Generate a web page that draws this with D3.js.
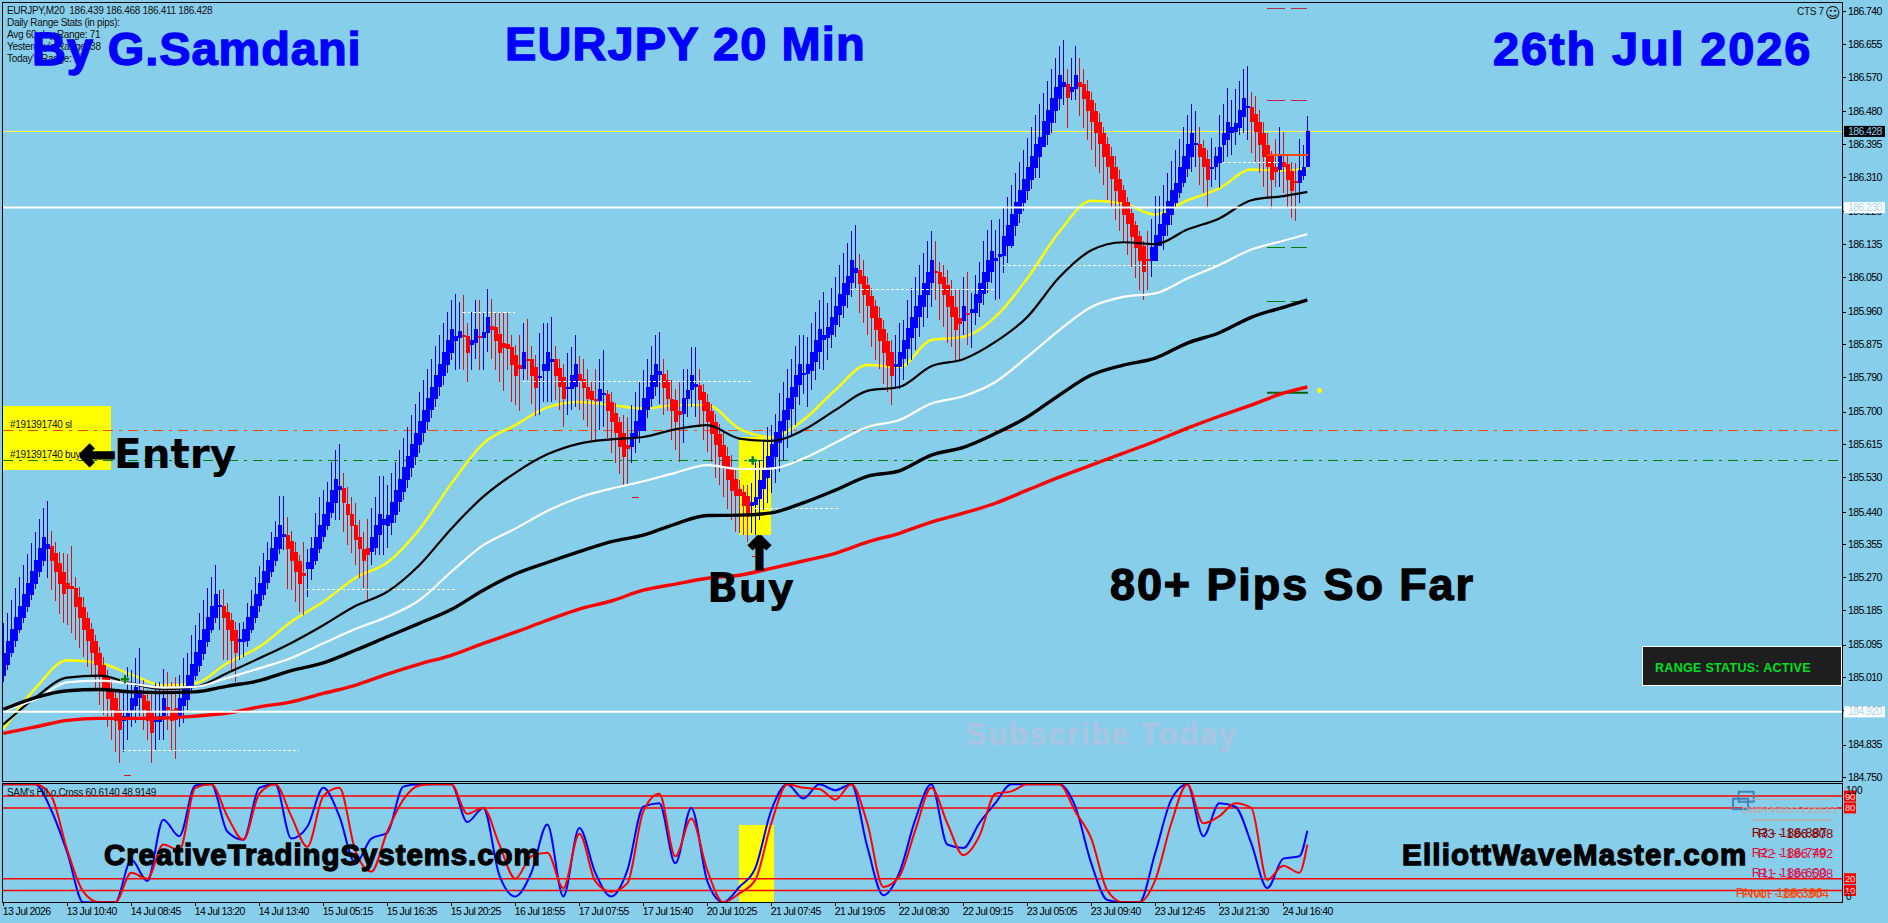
<!DOCTYPE html>
<html>
<head>
<meta charset="utf-8">
<title>EURJPY 20 Min</title>
<script src="https://cdnjs.cloudflare.com/ajax/libs/d3/7.8.5/d3.min.js"></script>
<style>
  html, body { margin: 0; padding: 0; background: #87ceeb; overflow: hidden; }
  text { font-family: "Liberation Sans", Arial, sans-serif; }
  .small { font-size: 10px; letter-spacing: -0.3px; fill: #101010; white-space: pre; }
  .axis text { font-size: 10.5px; letter-spacing: -0.6px; fill: #000; }
  .axis path { display: none; }
  .axis line { stroke: #000; }
</style>
</head>
<body>
<div id="chart"></div>
<script>
// bars are in points (0.001) above 185.000
const highs = [150,176,211,241,270,302,330,358,388,420,449,468,389,362,336,332,329,351,270,245,
219,180,150,120,89,63,29,3,-23,-23,-23,37,29,59,85,3,-23,-23,-6,-2,
31,23,-2,11,16,59,72,120,146,176,211,241,271,301,237,238,202,176,153,150,
154,202,237,271,299,332,362,388,417,481,482,425,391,360,328,362,342,375,436,479,
496,518,570,600,616,540,505,479,462,418,388,420,449,479,533,533,509,540,570,600,
631,661,691,720,752,782,810,838,870,899,929,960,990,1006,986,1003,929,960,990,990,
960,1018,992,960,957,957,957,899,873,899,929,940,870,847,903,929,931,945,870,836,
825,851,869,899,845,838,812,778,810,838,860,756,752,722,687,691,687,717,752,778,
808,838,870,899,907,838,808,782,760,778,810,812,869,869,810,773,747,721,695,669,
652,609,587,548,522,509,509,514,574,574,626,661,665,695,749,778,810,838,870,899,
899,895,929,960,990,1012,981,1020,1051,1081,1111,1139,1170,1185,1110,1094,1051,1020,990,973,
938,903,886,899,929,938,990,1020,1051,1081,1111,1142,1170,1142,1090,1081,1068,1042,1016,1016,
1049,1064,1007,1055,1090,1142,1172,1198,1172,1200,1228,1258,1289,1319,1349,1380,1410,1440,1471,1499,
1529,1560,1589,1618,1650,1665,1589,1618,1650,1618,1589,1562,1531,1501,1475,1440,1414,1388,1364,1328,
1289,1258,1233,1194,1168,1142,1168,1200,1260,1260,1289,1319,1352,1380,1407,1439,1471,1499,1481,1439,
1406,1380,1410,1387,1471,1499,1540,1510,1537,1560,1589,1598,1530,1520,1484,1453,1423,1378,1407,1439,
1427,1367,1349,1345,1407,1393,1468];
const lows = [-2,29,63,89,124,152,180,211,240,270,299,267,237,209,174,150,146,124,107,85,
63,37,11,-23,-62,-88,-120,-153,-183,-212,-183,-153,-120,-110,-92,-127,-153,-212,-179,-153,
-153,-127,-179,-203,-120,-110,-75,-32,3,24,55,89,124,150,133,55,55,29,-2,55,
63,89,124,150,180,211,238,270,299,330,340,238,237,206,180,172,219,263,302,332,
362,393,423,418,418,388,353,332,302,269,241,211,302,327,327,327,347,379,410,440,
470,501,531,561,592,622,652,683,713,741,769,800,834,808,812,808,778,808,838,808,
808,856,838,808,778,754,808,726,717,702,782,782,721,689,691,726,726,726,730,704,
659,691,704,713,704,678,659,626,626,652,661,631,592,567,538,509,509,567,592,618,
652,683,713,741,720,691,702,626,600,570,619,687,713,687,661,626,596,570,527,509,
479,446,418,388,384,379,362,384,379,418,444,462,488,514,544,574,605,635,665,717,
747,713,756,782,812,808,834,864,895,921,942,968,998,1020,957,929,899,869,834,812,
773,752,717,760,760,782,821,834,860,895,921,942,973,990,938,921,877,869,834,834,
899,873,864,925,947,977,1007,1033,990,992,1059,1085,1124,1155,1189,1220,1250,1278,1308,1306,
1388,1393,1423,1449,1484,1497,1438,1510,1510,1468,1436,1406,1380,1336,1319,1289,1250,1228,1198,1168,
1142,1107,1077,1046,1016,990,1016,1049,1120,1150,1120,1155,1185,1228,1254,1283,1310,1323,1336,1289,
1267,1228,1284,1302,1280,1349,1362,1367,1393,1419,1423,1406,1371,1349,1319,1284,1258,1226,1284,1284,
1267,1228,1202,1194,1241,1302,1336];
const opens = [12,43,74,105,133,164,193,223,252,283,313,344,
351,332,308,283,254,247,242,219,192,164,134,105,74,43,11,-20,-44,-75,
-105,-101,-75,-66,-45,-36,-53,-79,-107,-107,-92,-68,-75,-71,
-92,-66,-50,-16,13,39,70,102,133,164,192,195,179,159,133,
102,102,105,133,164,195,223,254,283,313,343,373,380,364,336,313,282,
290,290,313,344,375,403,436,463,496,502,460,434,405,375,344,345,
336,345,379,405,403,410,431,466,492,522,553,583,613,644,673,704,734,763,793,821,851,884,890,
898,896,874,877,896,891,903,922,919,902,877,876,867,847,820,812,836,836,815,
787,805,805,829,836,813,791,760,760,765,799,784,765,754,732,728,744,
746,725,697,673,644,613,609,631,649,649,704,734,763,794,799,782,732,730,702,
694,732,756,765,769,752,726,701,673,643,614,585,553,524,498,492,481,
456,457,472,500,527,557,583,619,650,678,706,737,770,794,798,805,830,856,886,890,899,925,951,974,1003,1033,1059,
1068,1052,1028,1000,974,943,914,884,855,817,817,836,862,890,916,947,973,1003,1033,
1066,1064,1049,1028,1000,971,943,936,957,
955,957,981,1006,1038,1064,1091,1101,1103,1129,1129,1181,1213,1243,1274,1302,1333,1362,1388,1419,1451,1482,1512,1543,
1551,1531,1537,1556,1551,1533,1510,1481,1453,1423,1395,1364,1335,1304,1276,1245,1217,1186,1156,1129,1096,
1092,1092,1129,1155,1185,1211,1241,1267,1295,1331,1362,1393,1395,1384,1355,
1330,1335,1345,1393,1406,1425,1427,1436,1465,1488,1491,1472,1453,1423,1393,1364,1336,1328,
1349,1343,1325,1298,1295,1312,1336];
const closes = [74,105,134,166,195,225,254,285,315,345,374,356,
313,284,252,225,240,238,193,164,133,105,74,43,11,-23,-47,-75,-105,-127,
-92,-84,-45,-16,-23,-75,-105,-136,-101,-92,-45,-75,-105,-101,
-45,-19,16,44,76,107,134,166,195,226,198,164,133,105,74,
108,134,166,195,226,254,285,315,345,375,405,382,343,313,284,252,274,
309,345,375,405,434,464,496,524,507,463,431,403,366,344,312,327,
375,405,434,420,431,465,496,526,555,585,616,645,676,704,735,765,796,824,855,886,915,896,909,
893,853,886,915,890,907,946,912,884,853,865,862,822,793,812,856,832,793,761,
793,824,854,838,793,763,734,765,794,824,780,761,734,730,727,758,748,
701,673,644,609,583,604,644,675,704,735,765,794,824,805,761,734,701,674,690,
735,756,795,772,730,701,673,642,614,583,559,522,495,482,481,456,432,
466,479,522,548,585,616,647,675,704,735,765,795,824,801,824,855,886,915,898,921,947,974,1006,1035,1052,1094,1074,
1032,1003,974,942,912,884,851,818,793,825,855,886,916,945,974,1004,1033,1064,1094,
1063,1032,1003,973,945,912,928,974,954,
967,1006,1035,1064,1094,1117,1100,1110,1155,1185,1213,1245,1276,1305,1336,1364,1395,1414,1456,1484,1514,1544,1575,1556,
1514,1544,1575,1543,1512,1482,1453,1423,1395,1362,1335,1304,1274,1245,1211,1187,1153,1124,1092,1064,1092,
1127,1159,1187,1215,1246,1276,1295,1336,1364,1395,1425,1397,1362,1336,1302,
1336,1364,1387,1425,1453,1439,1449,1484,1514,1494,1453,1427,1393,1362,1335,1302,1323,1364,
1335,1302,1274,1295,1329,1336,1428];

// moving averages, read every 8 bars plus the last bar
const maBars = [0,8,16,24,32,40,48,56,64,72,80,88,96,104,112,120,128,136,144,152,160,168,176,184,192,200,208,216,224,232,240,248,256,264,272,280,288,296,304,312,320,326];
const maYellow = [184.875,184.981,185.054,185.047,185.017,184.989,184.994,185.047,185.089,185.154,185.206,185.268,185.308,185.394,185.513,185.617,185.665,185.711,185.725,185.717,185.708,185.717,185.717,185.656,185.634,185.678,185.756,185.821,185.816,185.886,185.894,185.946,186.046,186.167,186.248,186.241,186.212,186.249,186.280,186.329,186.326,186.332];
const maThinBlack = [184.887,184.957,185.009,185.014,184.994,184.979,184.985,185.021,185.059,185.099,185.145,185.195,185.232,185.301,185.396,185.479,185.541,185.589,185.617,185.628,185.634,185.654,185.665,185.630,185.624,185.652,185.704,185.754,185.764,185.818,185.836,185.881,185.946,186.049,186.119,186.140,186.135,186.173,186.202,186.249,186.260,186.271];
const maWhite = [184.924,184.952,184.997,185.001,184.993,184.983,184.985,185.008,185.033,185.060,185.098,185.135,185.167,185.210,185.284,185.353,185.396,185.442,185.477,185.500,185.519,185.541,185.561,185.551,185.552,185.578,185.619,185.660,185.678,185.721,185.740,185.777,185.842,185.912,185.972,185.998,186.007,186.046,186.081,186.121,186.144,186.161];
const maThickBlack = [184.926,184.957,184.975,184.978,184.972,184.970,184.972,184.987,185.001,185.027,185.047,185.080,185.115,185.150,185.186,185.236,185.278,185.308,185.336,185.362,185.379,185.408,185.430,185.431,185.437,185.463,185.496,185.532,185.546,185.587,185.607,185.643,185.686,185.743,185.795,185.821,185.839,185.878,185.905,185.945,185.971,185.990];
const maRed = [184.864,184.881,184.898,184.903,184.903,184.904,184.909,184.917,184.933,184.946,184.968,184.989,185.018,185.044,185.067,185.098,185.127,185.158,185.187,185.208,185.236,185.252,185.267,185.275,185.293,185.312,185.332,185.361,185.384,185.413,185.436,185.462,185.496,185.530,185.561,185.592,185.623,185.657,185.688,185.717,185.748,185.764];

// SAM's HiLo cross, read every 4 bars plus the last bar
const stochBars = d3.range(0, 325, 4).concat([326]);
const stochBlue = [100,100,100,78,42,0,0,0,36,18,70,56,99,100,60,53,97,100,54,64,97,73,33,54,59,98,100,100,100,68,80,23,5,25,66,5,63,25,5,27,81,84,33,80,18,0,13,29,78,100,88,100,95,100,47,6,25,70,100,49,46,67,84,100,100,100,100,81,33,2,0,0,42,87,100,56,84,81,50,12,37,39,60.6];
const stochRed = [100,100,100,90,44,9,0,0,25,20,49,44,97,100,73,53,92,100,73,47,90,97,44,26,60,87,99,100,100,75,80,49,20,39,42,12,58,18,9,16,77,92,39,71,27,0,7.6,19,67,100,97,96,87,100,67,13,22,61,97,67,40,56,92,94,100,100,100,77,54,10,0,0,19,67,100,67,73,84,80,19,31,25,48.9];
const stochLevels = [90, 80, 20, 10];

const priceTicks = [186.740,186.655,186.570,186.480,186.395,186.310,186.220,186.135,186.050,185.960,185.875,185.790,185.700,185.615,185.530,185.440,185.355,185.270,185.185,185.095,185.010,184.925,184.835,184.750];
const timeTicks = d3.range(0, 321, 16);
const timeLabels = ["13 Jul 2026","13 Jul 10:40","14 Jul 08:45","14 Jul 13:20","14 Jul 13:40","15 Jul 05:15","15 Jul 16:35","15 Jul 20:25","16 Jul 18:55","17 Jul 07:55","17 Jul 15:40","20 Jul 10:25","21 Jul 07:45","21 Jul 19:05","22 Jul 08:30","22 Jul 09:15","23 Jul 05:05","23 Jul 09:40","23 Jul 12:45","23 Jul 21:30","24 Jul 16:40"];

// short white dashed levels: [from bar, to bar, price]
const dashLevels = [[30,74,184.820],[76,113,185.238],[115,128,185.958],[130,187,185.779],[188,209,185.449],[212,248,186.018],[250,303,186.080],[305,319,186.348],[323,325,186.230]];
// pivot stubs on the last day: [price, colour, width]
const pivotStubs = [[186.747,"#b03050",1],[186.507,"#c8204c",1],[186.127,"#008000",1],[185.987,"#008000",1]];
const infoLines = ["EURJPY,M20  186.439 186.468 186.411 186.428","Daily Range Stats (in pips):","Avg 60-day Range: 71","Yesterday's Range: 38","Today's Range: 27"];
const pivotLabels = [["R3 - 186.887","R3 - 186.808","#8b0000",832],["R2 - 186.749","R2 - 186.792","#dc143c",852],["R1 - 186.600","R1 - 186.588","#dc1450",872],["Pivot - 186.366","Pivot - 186.304","#ff4500",892]];

const width = 1888, height = 923;
const svg = d3.select("#chart").append("svg").attr("width", width).attr("height", height).style("display", "block");

const x = d3.scaleLinear().domain([0, 326]).range([3.3, 1307.3]);
const y = d3.scaleLinear().domain([186.74, 184.75]).range([11.3, 777.3]);
const yStoch = d3.scaleLinear().domain([0, 100]).range([902.3, 784.3]);
const price = d => 185 + d / 1000;

svg.append("rect").attr("width", width).attr("height", height).attr("fill", "#87ceeb");

const defs = svg.append("defs");
defs.append("clipPath").attr("id", "mainClip").append("rect").attr("x", 3).attr("y", 3).attr("width", 1839).attr("height", 778);
defs.append("clipPath").attr("id", "subClip").append("rect").attr("x", 3).attr("y", 784).attr("width", 1839).attr("height", 118);

const main = svg.append("g").attr("clip-path", "url(#mainClip)");
const sub = svg.append("g").attr("clip-path", "url(#subClip)");

// yellow highlight boxes
main.append("rect").attr("x", 3).attr("y", 406).attr("width", 108).attr("height", 64).attr("fill", "#ffff00");
main.append("rect").attr("x", 739).attr("y", 437).attr("width", 32).attr("height", 98).attr("fill", "#ffff00");
sub.append("rect").attr("x", 739).attr("y", 825).attr("width", 35).attr("height", 78).attr("fill", "#ffff00");

// order lines
main.append("line").attr("x1", 3).attr("x2", 1842).attr("y1", y(185.651)).attr("y2", y(185.651))
  .attr("stroke", "#ff4500").attr("stroke-dasharray", "10,6,3,6").attr("shape-rendering", "crispEdges");
main.append("line").attr("x1", 3).attr("x2", 1842).attr("y1", y(185.573)).attr("y2", y(185.573))
  .attr("stroke", "#008000").attr("stroke-dasharray", "10,6,3,6").attr("shape-rendering", "crispEdges");

main.append("line").attr("x1", 3).attr("x2", 1842).attr("y1", y(186.428)).attr("y2", y(186.428))
  .attr("stroke", "#ffff40").attr("shape-rendering", "crispEdges");

const maLine = d3.line().x((d, i) => x(maBars[i])).y(d => y(d)).curve(d3.curveMonotoneX);
main.append("path").attr("d", maLine(maYellow)).attr("fill", "none").attr("stroke", "#ffff00").attr("stroke-width", 2.4);

// bars
const bars = main.append("g").attr("shape-rendering", "crispEdges");
const barIdx = d3.range(opens.length);
const isUp = i => closes[i] >= opens[i];
bars.selectAll("line").data(barIdx).enter().append("line")
  .attr("x1", i => Math.round(x(i)) + 0.5).attr("x2", i => Math.round(x(i)) + 0.5)
  .attr("y1", i => y(price(highs[i]))).attr("y2", i => y(price(lows[i])))
  .attr("stroke", i => isUp(i) ? "#0000e0" : "#d2141e");
bars.selectAll("rect").data(barIdx).enter().append("rect")
  .attr("x", i => Math.round(x(i)) - 1.5).attr("width", 4)
  .attr("y", i => y(price(Math.max(opens[i], closes[i]))))
  .attr("height", i => Math.max(2, Math.abs(y(price(opens[i])) - y(price(closes[i])))))
  .attr("fill", i => isUp(i) ? "#0000ff" : "#ff0000");

// dashed levels and stubs
main.selectAll(".lvl").data(dashLevels).enter().append("line").attr("class", "lvl")
  .attr("x1", d => x(d[0])).attr("x2", d => x(d[1])).attr("y1", d => y(d[2])).attr("y2", d => y(d[2]))
  .attr("stroke", "#fff").attr("stroke-dasharray", "3,2").attr("shape-rendering", "crispEdges");
pivotStubs.forEach(d => {
  [[1266.7, 1285], [1291, 1306.7]].forEach(s => {
    main.append("line").attr("x1", s[0]).attr("x2", s[1]).attr("y1", y(d[0])).attr("y2", y(d[0]))
      .attr("stroke", d[1]).attr("stroke-width", d[2]).attr("shape-rendering", "crispEdges");
  });
});
main.append("line").attr("x1", 1267).attr("x2", 1308).attr("y1", y(186.367)).attr("y2", y(186.367)).attr("stroke", "#ff4500").attr("stroke-width", 2);
main.append("line").attr("x1", 1267).attr("x2", 1308).attr("y1", y(185.749)).attr("y2", y(185.749)).attr("stroke", "#006400").attr("stroke-width", 2);
main.append("circle").attr("cx", 1319.6).attr("cy", y(185.755)).attr("r", 2.5).attr("fill", "#ffff00");
[[124, 130.7, 184.755], [632, 638.7, 185.477], [752, 756, 185.323]].forEach(d => {
  main.append("line").attr("x1", d[0]).attr("x2", d[1]).attr("y1", y(d[2])).attr("y2", y(d[2])).attr("stroke", "#d2141e").attr("shape-rendering", "crispEdges");
});

// moving averages over the bars
[[maThinBlack, "#000", 2.2], [maWhite, "#fff", 2.2], [maThickBlack, "#000", 3.4], [maRed, "#ff0000", 3.4]].forEach(d => {
  main.append("path").attr("d", maLine(d[0])).attr("fill", "none").attr("stroke", d[1]).attr("stroke-width", d[2]);
});

// white range lines
[186.23, 184.92].forEach(p => {
  main.append("line").attr("x1", 3).attr("x2", 1842).attr("y1", y(p)).attr("y2", y(p)).attr("stroke", "#fff").attr("stroke-width", 2);
});

// buy arrows
[[125, 185.005], [752.7, 185.573]].forEach(d => {
  main.append("path").attr("d", d3.symbol(d3.symbolCross, 45)()).attr("transform", `translate(${d[0]},${y(d[1])})`)
    .attr("fill", "#008000").attr("stroke", "#e8ffe8").attr("stroke-width", 0.5);
});

// stochastic pane
stochLevels.forEach(l => {
  sub.append("line").attr("x1", 3).attr("x2", 1842).attr("y1", yStoch(l)).attr("y2", yStoch(l)).attr("stroke", "#ff0000").attr("stroke-width", 1.5);
});
const stochLine = d3.line().x((d, i) => x(stochBars[i])).y(d => yStoch(d)).curve(d3.curveMonotoneX);
sub.append("path").attr("d", stochLine(stochBlue)).attr("fill", "none").attr("stroke", "#0000ff").attr("stroke-width", 2);
sub.append("path").attr("d", stochLine(stochRed)).attr("fill", "none").attr("stroke", "#ff0000").attr("stroke-width", 2);

// frames
const frame = svg.append("g").attr("shape-rendering", "crispEdges").attr("fill", "none").attr("stroke", "#000");
frame.append("rect").attr("x", 2.5).attr("y", 2.5).attr("width", 1839.5).attr("height", 778.5);
frame.append("rect").attr("x", 2.5).attr("y", 783.5).attr("width", 1839.5).attr("height", 118.5);

// axes
const priceAxis = svg.append("g").attr("class", "axis").attr("transform", "translate(1842,0)")
  .call(d3.axisRight(y).tickValues(priceTicks).tickSize(4).tickPadding(2).tickFormat(d3.format(".3f")));
priceAxis.selectAll("line").attr("shape-rendering", "crispEdges");
const timeAxis = svg.append("g").attr("class", "axis").attr("transform", "translate(0,902)")
  .call(d3.axisBottom(x).tickValues(timeTicks).tickSize(4).tickPadding(2).tickFormat((d, i) => timeLabels[i]));
timeAxis.selectAll("text").attr("text-anchor", "start").attr("dx", -1);
timeAxis.selectAll("line").attr("shape-rendering", "crispEdges");

const label = (s, px, py, size, fill, extra) => {
  const t = svg.append("text").attr("x", px).attr("y", py).attr("font-size", size).attr("fill", fill).text(s);
  if (extra) extra(t);
  return t;
};

// price tags
[[186.428, "#000", "#87ceeb", "186.428"], [186.23, "#fff", "#a8d8f0", "186.230"], [184.92, "#fff", "#a8d8f0", "184.920"]].forEach(d => {
  svg.append("rect").attr("x", 1844).attr("y", y(d[0]) - 5.5).attr("width", 41).attr("height", 11).attr("fill", d[1]);
  label(d[3], 1848, y(d[0]) + 3.6, 10.5, d[2], t => t.attr("letter-spacing", -0.6));
});

// sub pane tags and scale
stochLevels.forEach(l => {
  svg.append("rect").attr("x", 1844).attr("y", yStoch(l) - 5.5).attr("width", 12).attr("height", 11).attr("fill", "#ff0000");
  label(l, 1845, yStoch(l) + 3.5, 9.5, "#ffe0e0", t => t.attr("letter-spacing", -0.3));
});
label("100", 1846, 794, 10, "#000");
label("0", 1846, 899.5, 10, "#000");

// info text
infoLines.forEach((s, i) => {
  svg.append("text").attr("class", "small").attr("x", 7).attr("y", 14 + i * 12).text(s);
});
svg.append("text").attr("class", "small").attr("x", 7).attr("y", 795.5).text("SAM's HiLo,Cross 60.6140 48.9149");
svg.append("text").attr("class", "small").attr("x", 10).attr("y", 427.5).text("#191391740 sl");
svg.append("text").attr("class", "small").attr("x", 10).attr("y", 458).text("#191391740 buy");
svg.append("text").attr("class", "small").attr("x", 1797).attr("y", 15).text("CTS 7");
label("\u263a", 1825, 17.5, 15, "#101010", t => t.style("font-family", "DejaVu Sans"));

// headings
const heading = (s, px, py, size, fill, ls, sw) => label(s, px, py, size, fill, t => {
  t.attr("font-weight", "bold").attr("stroke", fill).attr("stroke-width", sw === undefined ? 1.3 : sw).attr("letter-spacing", ls || 0);
});
heading("By G.Samdani", 32, 65, 47, "#0000ff", 0.9);
heading("EURJPY 20 Min", 505, 60, 47, "#0000ff", 1.1);
heading("26th Jul 2026", 1493, 65, 47, "#0000ff", 1.85);
heading("80+ Pips So Far", 1110, 600, 45, "#000", 1.9);
heading("Subscribe Today", 966, 745, 31, "#aac4e2", 1.6, 0.3);
heading("CreativeTradingSystems.com", 104, 865, 29.5, "#000", 0.9);
heading("ElliottWaveMaster.com", 1402, 865, 29.5, "#000", 1.2);

const heavy = (s, px, py, size) => label(s, px, py, size, "#000", t => {
  t.attr("font-weight", "bold").style("font-family", "DejaVu Sans");
});
heavy("Entry", 114, 468, 40.5);
heavy("Buy", 707, 602, 41);
heavy("\u2190", 79, 469, 44).attr("stroke", "#000").attr("stroke-width", 3);
heavy("\u2191", 741, 569, 44).attr("stroke", "#000").attr("stroke-width", 3);

// range status box
svg.append("rect").attr("x", 1642.5).attr("y", 646.5).attr("width", 199).attr("height", 39).attr("fill", "#1e1e1e").attr("stroke", "#fff");
label("RANGE STATUS: ACTIVE", 1655, 671.5, 12.5, "#00e020", t => t.attr("font-weight", "bold").attr("letter-spacing", 0.3));

// pivot panel
svg.append("rect").attr("x", 1738.7).attr("y", 791.7).attr("width", 15).attr("height", 10).attr("fill", "none").attr("stroke", "#4682b4").attr("stroke-width", 2);
svg.append("rect").attr("x", 1733).attr("y", 798.7).attr("width", 15).attr("height", 10.5).attr("fill", "none").attr("stroke", "#4682b4").attr("stroke-width", 2);
svg.append("line").attr("x1", 1752).attr("x2", 1832).attr("y1", 799.5).attr("y2", 799.5).attr("stroke", "#b0b0b0");
svg.append("line").attr("x1", 1752).attr("x2", 1832).attr("y1", 820).attr("y2", 820).attr("stroke", "#b0b0b0").attr("stroke-width", 2);
label("DAILY PIVOT LEVELS", 1742, 812.5, 9.5, "#b8b0b0");
label("ISM PIVOT LEVELS", 1746, 812.5, 9.5, "#b8b0b0");
pivotLabels.forEach(d => {
  const isPivot = d[0].startsWith("Pivot");
  label(d[0], isPivot ? 1735.7 : 1751.7, d[3] + 4.5, 13, d[2]);
  label(d[1], isPivot ? 1741.7 : 1758, d[3] + 5.5, 13, d[2]);
});
</script>
</body>
</html>
